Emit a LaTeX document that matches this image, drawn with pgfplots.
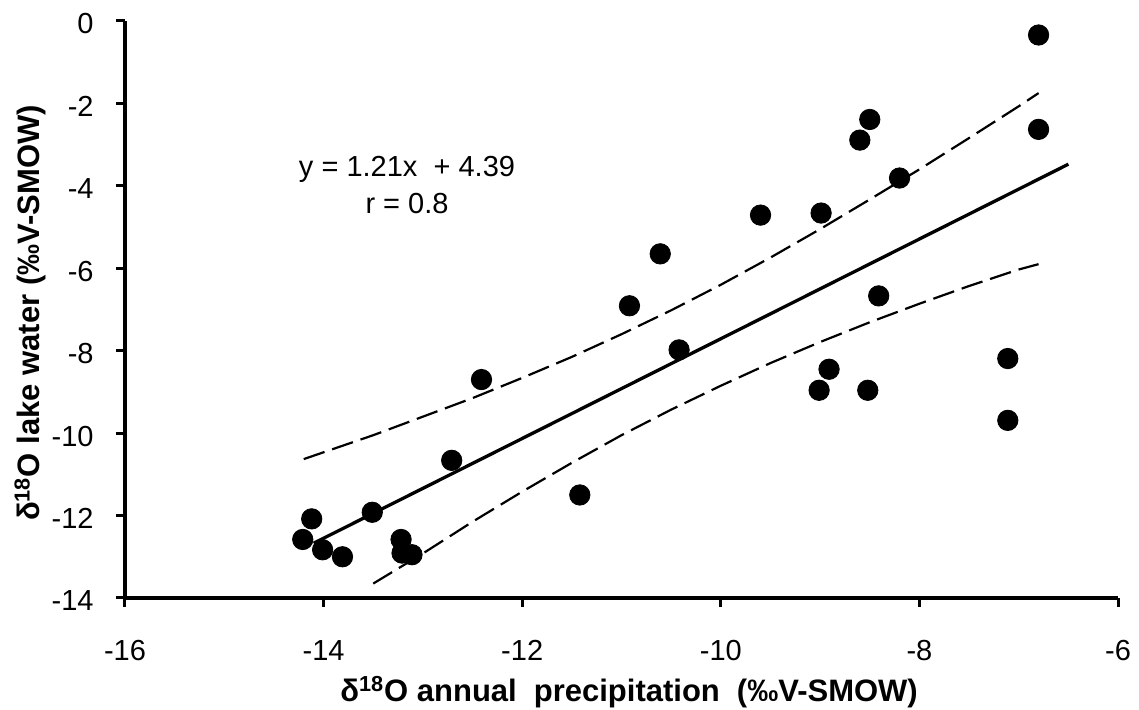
\documentclass[border=0pt]{standalone}
\usepackage{fontspec}
\setmainfont{Liberation Sans}
\usepackage{pgfplots}
\usepackage{pgfplotstable}
\pgfplotsset{compat=1.18}

\pgfplotstableread{
x y
-14.12 -12.08
-14.21 -12.58
-14.01 -12.83
-13.81 -13.00
-13.51 -11.92
-13.22 -12.58
-13.21 -12.91
-13.11 -12.95
-12.71 -10.66
-12.41 -8.70
-11.42 -11.50
-10.92 -6.91
-10.61 -5.65
-10.42 -7.98
-9.60 -4.71
-9.01 -8.96
-8.99 -4.66
-8.91 -8.45
-8.60 -2.89
-8.52 -8.96
-8.50 -2.39
-8.41 -6.67
-8.20 -3.81
-7.11 -8.19
-7.11 -9.69
-6.80 -0.34
-6.80 -2.63
}\ptsdata

\pgfplotstableread{
x y
-14.2 -10.63
-13.5 -10.05
-13.0 -9.60
-12.5 -9.15
-12.0 -8.66
-11.5 -8.15
-11.0 -7.60
-10.5 -7.02
-10.0 -6.40
-9.5 -5.74
-9.0 -5.05
-8.5 -4.33
-8.0 -3.60
-7.5 -2.84
-7.0 -2.07
-6.8 -1.75
}\upperband

\pgfplotstableread{
x y
-13.5 -13.65
-13.0 -12.92
-12.5 -12.15
-12.0 -11.42
-11.5 -10.72
-11.0 -10.05
-10.5 -9.43
-10.0 -8.85
-9.5 -8.30
-9.0 -7.79
-8.5 -7.31
-8.0 -6.86
-7.5 -6.43
-7.0 -6.03
-6.8 -5.90
}\lowerband

\begin{document}
\begin{tikzpicture}
\useasboundingbox (-62.5pt,-56pt) rectangle (507pt,299pt);
\begin{axis}[
  scale only axis,
  width=496.5pt, height=288.5pt,
  xmin=-16, xmax=-6, ymin=-14, ymax=0,
  axis lines=left,
  axis line style={-, line width=2pt, black},
  xtick={-16,-14,-12,-10,-8,-6},
  ytick={-14,-12,-10,-8,-6,-4,-2,0},
  tick align=outside,
  major tick length=4.5pt,
  tick style={line width=1.5pt, black},
  /pgf/number format/assume math mode=true,
  tick label style={font=\fontsize{14.5}{17}\selectfont},
  xticklabel style={anchor=base, inner sep=0pt, yshift=-27pt},
  yticklabel style={anchor=east, inner sep=0pt, xshift=-11pt, yshift=-1.5pt},
  every axis x label/.style={at={(axis description cs:0.5,0)}, anchor=base, yshift=-51.8pt, xshift=3.75pt, font=\fontsize{15.5}{18}\selectfont\bfseries},
  every axis y label/.style={at={(axis description cs:-0.0856,0.494)}, rotate=90, anchor=base, font=\fontsize{15.5}{18}\selectfont\bfseries},
  xlabel={δ\textsuperscript{18}O annual\hspace{0.55em}precipitation\hspace{0.55em}(‰V-SMOW)},
  ylabel={δ\textsuperscript{18}O lake water (‰V-SMOW)},
]
\addplot[black, line width=1.1pt, dash pattern=on 11pt off 4pt] table[x=x,y=y] {\upperband};
\addplot[black, line width=1.1pt, dash pattern=on 11pt off 4pt] table[x=x,y=y] {\lowerband};
\addplot[black, line width=1.65pt] coordinates {(-14.1,-12.671) (-6.5,-3.475)};
\addplot[only marks, mark=*, mark size=5.1pt, black, mark options={fill=black, draw=black}] table[x=x,y=y] {\ptsdata};
\node[align=center, font=\fontsize{14.5}{18.5}\selectfont] at (axis cs:-13.16,-3.98) {y = 1.21x\ \ + 4.39\\r = 0.8};
\end{axis}
\end{tikzpicture}
\end{document}
